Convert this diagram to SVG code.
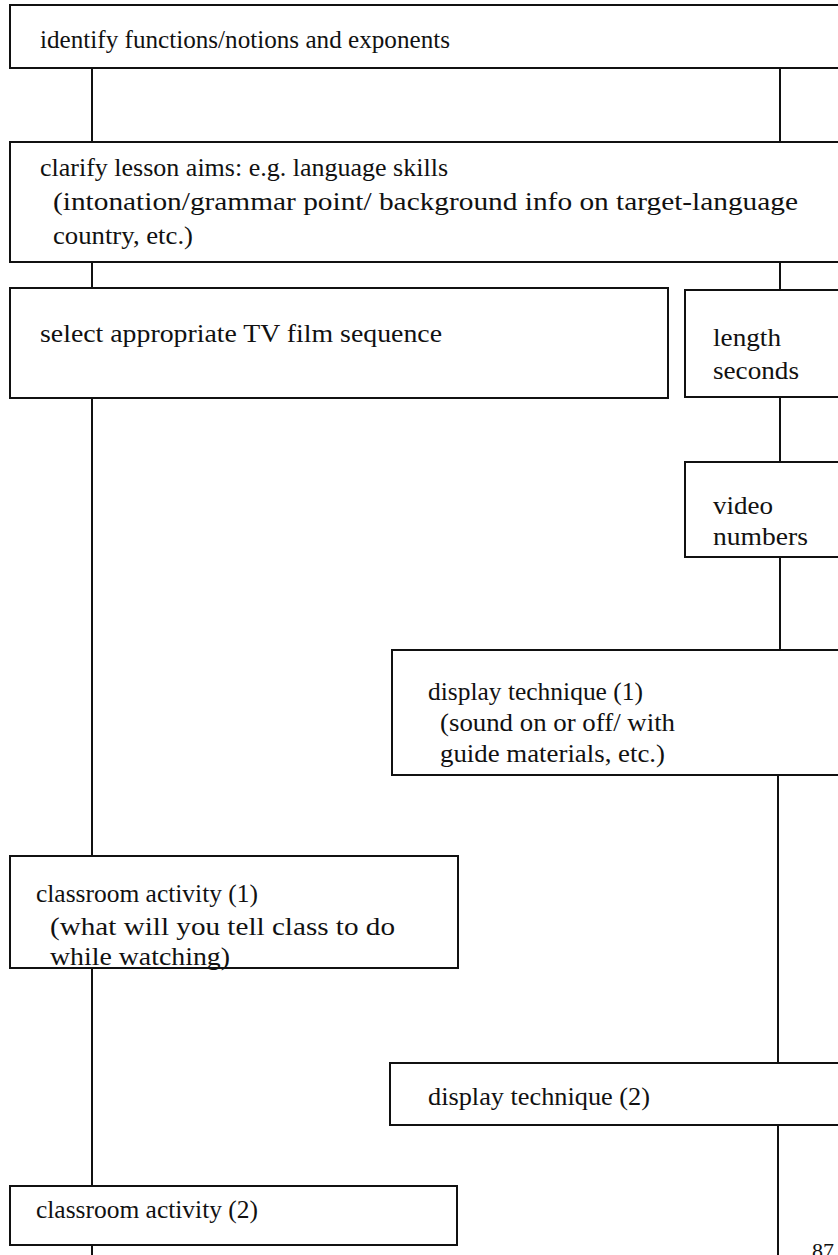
<svg xmlns="http://www.w3.org/2000/svg" width="838" height="1255" viewBox="0 0 838 1255">
<style>
.box{fill:#fff;stroke:#111;stroke-width:2}
.ln{stroke:#111;stroke-width:2;fill:none}
text{font-family:"Liberation Serif","Times New Roman",serif;font-size:26px;fill:#111}
</style>
<rect width="838" height="1255" fill="#fff"/>
<g id="connectors">
<line class="ln" x1="92" y1="68" x2="92" y2="142"/>
<line class="ln" x1="780" y1="68" x2="780" y2="142"/>
<line class="ln" x1="92" y1="262" x2="92" y2="288"/>
<line class="ln" x1="780" y1="262" x2="780" y2="290"/>
<line class="ln" x1="92" y1="398" x2="92" y2="856"/>
<line class="ln" x1="780" y1="397" x2="780" y2="462"/>
<line class="ln" x1="780" y1="557" x2="780" y2="650"/>
<line class="ln" x1="778" y1="775" x2="778" y2="1063"/>
<line class="ln" x1="92" y1="968" x2="92" y2="1186"/>
<line class="ln" x1="778" y1="1125" x2="778" y2="1255"/>
<line class="ln" x1="92" y1="1245" x2="92" y2="1255"/>
</g>
<g id="n1">
<rect class="box" x="10" y="5" width="840" height="63"/>
<text x="40" y="48" textLength="410" lengthAdjust="spacingAndGlyphs">identify functions/notions and exponents</text>
</g>
<g id="n2">
<rect class="box" x="10" y="142" width="840" height="120"/>
<text x="40" y="176" textLength="408" lengthAdjust="spacingAndGlyphs">clarify lesson aims: e.g. language skills</text>
<text x="53" y="210" textLength="745" lengthAdjust="spacingAndGlyphs">(intonation/grammar point/ background info on target-language</text>
<text x="53" y="244" textLength="140" lengthAdjust="spacingAndGlyphs">country, etc.)</text>
</g>
<g id="n3">
<rect class="box" x="10" y="288" width="658" height="110"/>
<text x="40" y="342" textLength="402" lengthAdjust="spacingAndGlyphs">select appropriate TV film sequence</text>
</g>
<g id="n4">
<rect class="box" x="685" y="290" width="165" height="107"/>
<text x="713" y="346" textLength="68" lengthAdjust="spacingAndGlyphs">length</text>
<text x="713" y="379" textLength="86" lengthAdjust="spacingAndGlyphs">seconds</text>
</g>
<g id="n5">
<rect class="box" x="685" y="462" width="165" height="95"/>
<text x="713" y="514" textLength="60" lengthAdjust="spacingAndGlyphs">video</text>
<text x="713" y="545" textLength="95" lengthAdjust="spacingAndGlyphs">numbers</text>
</g>
<g id="n6">
<rect class="box" x="392" y="650" width="458" height="125"/>
<text x="428" y="700" textLength="215" lengthAdjust="spacingAndGlyphs">display technique (1)</text>
<text x="440" y="731" textLength="235" lengthAdjust="spacingAndGlyphs">(sound on or off/ with</text>
<text x="440" y="762" textLength="225" lengthAdjust="spacingAndGlyphs">guide materials, etc.)</text>
</g>
<g id="n7">
<rect class="box" x="10" y="856" width="448" height="112"/>
<text x="36" y="902" textLength="222" lengthAdjust="spacingAndGlyphs">classroom activity (1)</text>
<text x="50" y="935" textLength="345" lengthAdjust="spacingAndGlyphs">(what will you tell class to do</text>
<text x="50" y="965" textLength="180" lengthAdjust="spacingAndGlyphs">while watching)</text>
</g>
<g id="n8">
<rect class="box" x="390" y="1063" width="460" height="62"/>
<text x="428" y="1105" textLength="222" lengthAdjust="spacingAndGlyphs">display technique (2)</text>
</g>
<g id="n9">
<rect class="box" x="10" y="1186" width="447" height="59"/>
<text x="36" y="1218" textLength="222" lengthAdjust="spacingAndGlyphs">classroom activity (2)</text>
</g>
<text x="812" y="1258" style="font-size:22px">87</text>
</svg>
